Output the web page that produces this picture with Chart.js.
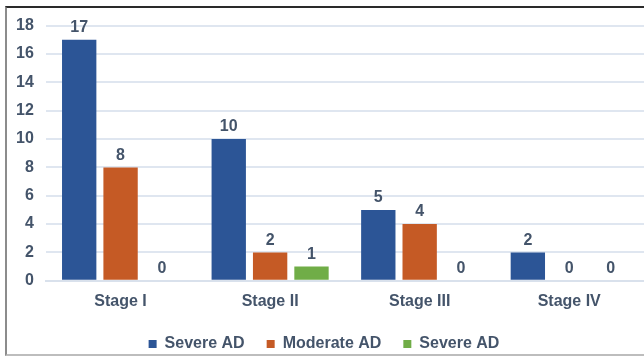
<!DOCTYPE html>
<html>
<head>
<meta charset="utf-8">
<script src="https://cdn.jsdelivr.net/npm/chart.js@4/dist/chart.umd.min.js"></script>
<style>
  html, body { margin: 0; padding: 0; background: #ffffff; }
  body { width: 644px; height: 358px; position: relative; overflow: hidden; }
  #frame {
    position: absolute; left: 5px; top: 6px; width: 639px; height: 350px;
    border-top: 2px solid #2a2a2a; border-left: 2px solid #8c8c8c; border-bottom: 2px solid #bdbdbd;
    box-sizing: border-box; background: #fff;
  }
  #wrap { position: absolute; left: 0; top: -4px; right: 0; bottom: 0; }
</style>
</head>
<body>
<div id="frame"><div id="wrap"><canvas id="c"></canvas></div></div>
<script>
const stages = ['Stage I', 'Stage II', 'Stage III', 'Stage IV'];
const severeA = [17, 10, 5, 2];
const moderate = [8, 2, 4, 0];
const severeB = [0, 1, 0, 0];
const yTicks = [0, 2, 4, 6, 8, 10, 12, 14, 16, 18];

const ink = '#44546a';
const font = '"Liberation Sans", Arial, sans-serif';

// value written above each bar
const valueLabels = {
  id: 'valueLabels',
  afterDatasetsDraw(chart) {
    const ctx = chart.ctx;
    ctx.save();
    ctx.font = 'bold 16px ' + font;
    ctx.fillStyle = ink;
    ctx.textAlign = 'center';
    ctx.textBaseline = 'bottom';
    chart.data.datasets.forEach((ds, i) => {
      chart.getDatasetMeta(i).data.forEach((bar, j) => {
        ctx.fillText(String(ds.data[j]), bar.x, bar.y - 4);
      });
    });
    ctx.restore();
  }
};

new Chart(document.getElementById('c'), {
  type: 'bar',
  data: {
    labels: stages,
    datasets: [
      { label: 'Severe AD', data: severeA, backgroundColor: '#2c5596', borderColor: '#2c5596' },
      { label: 'Moderate AD', data: moderate, backgroundColor: '#c55a25', borderColor: '#c55a25' },
      { label: 'Severe AD', data: severeB, backgroundColor: '#70ad47', borderColor: '#70ad47' }
    ]
  },
  options: {
    responsive: true,
    maintainAspectRatio: false,
    animation: false,
    datasets: { bar: { categoryPercentage: 0.83, barPercentage: 0.83 } },
    layout: { padding: { left: -3, right: 0, top: 0, bottom: -8 } },
    plugins: {
      tooltip: { enabled: false },
      legend: {
        position: 'bottom',
        labels: {
          color: ink, boxWidth: 8, boxHeight: 8, padding: 22,
          font: { family: font, size: 16, weight: 'bold' }
        }
      }
    },
    scales: {
      x: {
        grid: { display: false },
        border: { color: '#d9e1ec', width: 2 },
        ticks: { color: ink, padding: 3, font: { family: font, size: 16, weight: 'bold' } }
      },
      y: {
        min: 0, max: 18,
        afterBuildTicks(axis) { axis.ticks = yTicks.map(v => ({ value: v })); },
        grid: { color: '#dfe6f0', lineWidth: 2, drawTicks: false },
        border: { display: false },
        ticks: { color: ink, padding: 12, font: { family: font, size: 16, weight: 'bold' } }
      }
    }
  },
  plugins: [valueLabels]
});
</script>
</body>
</html>
